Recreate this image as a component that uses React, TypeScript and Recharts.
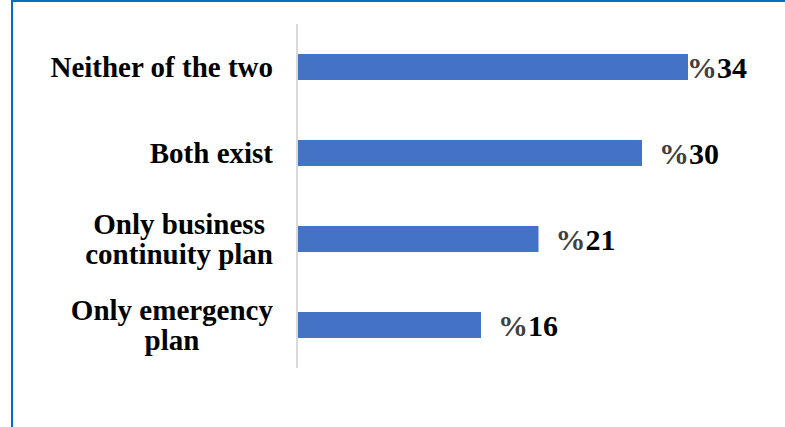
import React from "react";
import { BarChart, Bar, XAxis, YAxis, LabelList } from "recharts";

const categories = [
  "Neither of the two",
  "Both exist",
  "Only business\ncontinuity plan",
  "Only emergency\nplan",
];
const shares = [34, 30, 21, 16];
const xDomain = [0, 40];

const data = categories.map((name, i) => ({ name, value: shares[i] }));

const FONT = "'Liberation Serif', 'Times New Roman', serif";

const CategoryTick = (props: any) => {
  const { x, y, payload } = props;
  const right = x - 24;
  return (
    <foreignObject x={0} y={y - 60} width={right} height={120}>
      <div
        style={{
          width: right,
          height: 120,
          display: "flex",
          alignItems: "center",
          justifyContent: "flex-end",
        }}
      >
        <div
          style={{
            whiteSpace: "pre",
            textAlign: "center",
            fontFamily: FONT,
            fontWeight: 700,
            fontSize: 29,
            lineHeight: "30px",
            color: "#000",
          }}
        >
          {payload.value}
        </div>
      </div>
    </foreignObject>
  );
};

const ValueLabel = (props: any) => {
  const { x, y, width, height, value, index } = props;
  const gap = index === 0 ? -1 : 17;
  return (
    <text
      x={x + width + gap}
      y={y + height / 2}
      dominantBaseline="central"
      fontFamily={FONT}
      fontWeight={700}
      fontSize={30}
    >
      <tspan fill="#404040">%</tspan>
      <tspan fill="#000">{value}</tspan>
    </text>
  );
};

export default function App() {
  return (
    <div
      style={{
        position: "fixed",
        left: 0,
        top: 0,
        width: 785,
        height: 427,
        overflow: "hidden",
        background: "#fff",
      }}
    >
      <div
        style={{
          position: "absolute",
          left: 11,
          top: 0,
          width: 820,
          height: 460,
          border: "2.5px solid #0070C0",
          boxSizing: "border-box",
        }}
      />
      <div style={{ position: "absolute", left: 0, top: 0 }}>
        <BarChart
          width={785}
          height={427}
          data={data}
          layout="vertical"
          margin={{ top: 24, right: 28, bottom: 59, left: 0 }}
          barCategoryGap="65%"
        >
          <XAxis type="number" domain={xDomain} hide />
          <YAxis
            type="category"
            dataKey="name"
            width={297}
            tickLine={false}
            tickSize={0}
            tickMargin={0}
            axisLine={{ stroke: "#d9d9d9", strokeWidth: 2 }}
            tick={<CategoryTick />}
            interval={0}
          />
          <Bar dataKey="value" fill="#4472C4" isAnimationActive={false}>
            <LabelList dataKey="value" content={<ValueLabel />} />
          </Bar>
        </BarChart>
      </div>
    </div>
  );
}
